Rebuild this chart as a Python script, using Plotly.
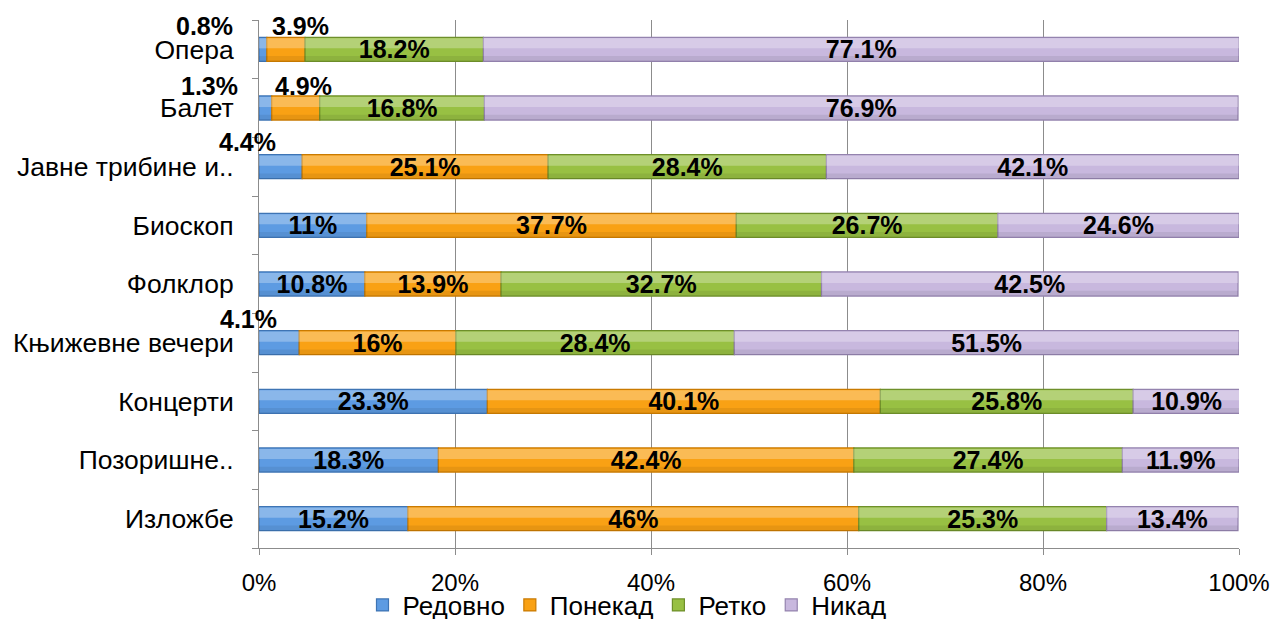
import plotly.graph_objects as go

# Categories listed bottom-to-top as they appear on the y axis
categories = ["Изложбе", "Позоришне..", "Концерти", "Књижевне вечери", "Фолклор",
              "Биоскоп", "Јавне трибине и..", "Балет", "Опера"]

series_names = ["Редовно", "Понекад", "Ретко", "Никад"]
redovno = [15.2, 18.3, 23.3, 4.1, 10.8, 11, 4.4, 1.3, 0.8]
ponekad = [46, 42.4, 40.1, 16, 13.9, 37.7, 25.1, 4.9, 3.9]
retko = [25.3, 27.4, 25.8, 28.4, 32.7, 26.7, 28.4, 16.8, 18.2]
nikad = [13.4, 11.9, 10.9, 51.5, 42.5, 24.6, 42.1, 76.9, 77.1]

x_ticks = [0, 20, 40, 60, 80, 100]
x_tick_labels = ["0%", "20%", "40%", "60%", "80%", "100%"]

fills = ["#5D9BE2", "#F9A114", "#98C043", "#C8B8DE"]
edges = ["#3E74B4", "#C97A00", "#6E8F2A", "#9483AE"]

FONT = "Liberation Sans, Arial, sans-serif"
LABEL_SIZE = 25
XTICK_SIZE = 24
YTICK_SIZE = 26.5
LEGEND_SIZE = 26

BAR_W = 0.41

# Segments narrower than this get their label placed above the bar
SMALL = 5.0
# Pixel offsets for labels lifted above narrow segments
small_offsets = {
    (0, "Опера"): (-58, 23),
    (0, "Балет"): (-56, 22),
    (0, "Јавне трибине и.."): (-33, 25),
    (0, "Књижевне вечери"): (-31, 24),
    (1, "Опера"): (15, 23),
    (1, "Балет"): (8, 22),
}

fmt = lambda v: f"{v:g}%"

all_series = [redovno, ponekad, retko, nikad]

# running left edge of every segment
bases = []
cum = [0.0] * len(categories)
for vals in all_series:
    bases.append(list(cum))
    cum = [c + v for c, v in zip(cum, vals)]

fig = go.Figure()

# main coloured segments
for si, (name, vals) in enumerate(zip(series_names, all_series)):
    fig.add_trace(go.Bar(
        y=categories, x=vals, base=bases[si], name=name, orientation="h",
        width=BAR_W, offset=-BAR_W / 2,
        marker=dict(color=fills[si], line=dict(color=edges[si], width=1.2)),
        hoverinfo="x+y+name",
    ))

# soft sheen on the upper half and shade on the lower edge of each segment
for si, vals in enumerate(all_series):
    fig.add_trace(go.Bar(
        y=categories, x=vals, base=bases[si], orientation="h",
        width=BAR_W * 0.42, offset=BAR_W * 0.04,
        marker=dict(color="rgba(255,255,255,0.28)", line=dict(width=0)),
        showlegend=False, hoverinfo="skip",
    ))
    fig.add_trace(go.Bar(
        y=categories, x=vals, base=bases[si], orientation="h",
        width=BAR_W * 0.22, offset=-BAR_W / 2,
        marker=dict(color="rgba(0,0,0,0.07)", line=dict(width=0)),
        showlegend=False, hoverinfo="skip",
    ))

# value labels drawn last so they sit above the shading
annotations = []
for si, vals in enumerate(all_series):
    texts = [fmt(v) if v >= SMALL else "" for v in vals]
    fig.add_trace(go.Bar(
        y=categories, x=vals, base=bases[si], orientation="h",
        width=BAR_W, offset=-BAR_W / 2,
        marker=dict(color="rgba(0,0,0,0)", line=dict(width=0)),
        text=texts, textposition="inside", insidetextanchor="middle",
        textangle=0, constraintext="none",
        textfont=dict(family=FONT, size=LABEL_SIZE, color="black", weight="bold"),
        showlegend=False, hoverinfo="skip",
    ))
    for ci, (cat, v) in enumerate(zip(categories, vals)):
        if v < SMALL:
            dx, dy = small_offsets.get((si, cat), (0, 23))
            annotations.append(dict(
                x=bases[si][ci] + v / 2, y=cat, xref="x", yref="y",
                text=f"<b>{fmt(v)}</b>", showarrow=False,
                xshift=dx, yshift=dy,
                font=dict(family=FONT, size=LABEL_SIZE, color="black"),
            ))

fig.update_layout(
    barmode="overlay",
    width=1276, height=619,
    margin=dict(l=259, r=37, t=20, b=71, autoexpand=False),
    paper_bgcolor="white", plot_bgcolor="white",
    font=dict(family=FONT, size=XTICK_SIZE, color="black"),
    annotations=annotations,
    showlegend=True,
    legend=dict(orientation="h", x=0.3755, xanchor="center", xref="paper",
                y=-0.108, yanchor="middle", yref="paper",
                traceorder="normal",
                font=dict(family=FONT, size=LEGEND_SIZE), itemwidth=30,
                tracegroupgap=0, bgcolor="rgba(0,0,0,0)"),
    xaxis=dict(range=[0, 100], tickvals=x_ticks, ticktext=x_tick_labels,
               showgrid=True, gridcolor="#8C8C8C", gridwidth=1,
               showline=True, linecolor="#8C8C8C", linewidth=1,
               ticks="outside", ticklen=6, tickcolor="#8C8C8C",
               tickfont=dict(family=FONT, size=XTICK_SIZE), zeroline=False,
               ticklabelstandoff=7, automargin=False, fixedrange=True),
    yaxis=dict(range=[-0.5, len(categories) - 0.5],
               showline=True, linecolor="#8C8C8C", linewidth=1,
               ticks="outside", ticklen=6, tickcolor="#8C8C8C",
               tickson="boundaries", showgrid=False,
               tickfont=dict(family=FONT, size=YTICK_SIZE), ticklabelstandoff=19,
               automargin=False, fixedrange=True),
)

fig.write_html("out.html")
